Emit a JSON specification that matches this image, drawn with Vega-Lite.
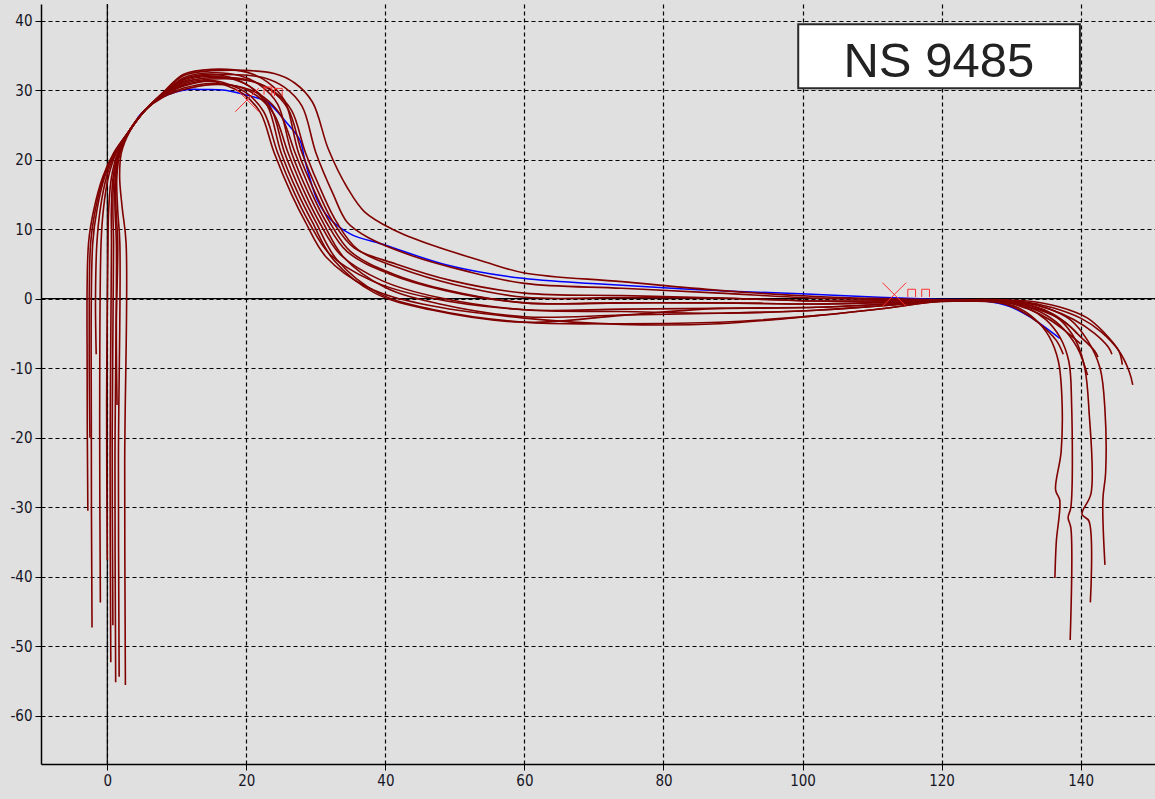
{
  "$schema": "https://vega.github.io/schema/vega-lite/v6.json",
  "width": 1114,
  "height": 760,
  "autosize": {"type": "none"},
  "padding": {"left": 41, "top": 4, "right": 0, "bottom": 35},
  "background": "#e0e0e0",
  "config": {
    "view": {"stroke": null, "fill": "#e0e0e0"},
    "axis": {
      "domainColor": "#000000", "domainWidth": 1.5, "tickColor": "#000000", "tickSize": 6, "tickWidth": 1,
      "grid": true, "gridColor": "#000000", "gridDash": [4, 3], "gridWidth": 1.2, "gridOpacity": 1,
      "labelFont": "DejaVu Sans Condensed, DejaVu Sans, Liberation Sans", "labelFontSize": 15, "labelColor": "#151525",
      "labelPadding": 3, "title": null, "labelExpr": "'' + datum.value"
    }
  },
  "datasets": {
    "zero": [{"v": 0}],
    "red": [
      {"c":1,"i":1,"x":-2.8,"y":-30.5},{"c":1,"i":2,"x":-2.9,"y":-11.3},{"c":1,"i":3,"x":-2.7,"y":8},{"c":1,"i":4,"x":-1.9,"y":13},{"c":1,"i":5,"x":-0.66,"y":17.5},{"c":1,"i":6,"x":0.94,"y":21},{"c":1,"i":7,"x":3.2,"y":24.2},{"c":1,"i":8,"x":5.5,"y":27.2},{"c":1,"i":9,"x":8,"y":29.2},{"c":1,"i":10,"x":11,"y":30.7},{"c":1,"i":11,"x":15,"y":31.4},{"c":1,"i":12,"x":17,"y":31.0},{"c":1,"i":13,"x":20,"y":29.6},{"c":1,"i":14,"x":22.5,"y":26.9},{"c":1,"i":15,"x":24.5,"y":21},{"c":1,"i":16,"x":27,"y":15},{"c":1,"i":17,"x":29,"y":11},{"c":1,"i":18,"x":32,"y":6.4},{"c":1,"i":19,"x":38,"y":2.6},{"c":1,"i":20,"x":46,"y":0.2},{"c":1,"i":21,"x":60,"y":-1.6},{"c":1,"i":22,"x":74,"y":-1.5},{"c":1,"i":23,"x":88,"y":-1.4},{"c":1,"i":24,"x":102,"y":-1.24},{"c":1,"i":25,"x":112,"y":-0.77},{"c":1,"i":26,"x":120,"y":-0.3},{"c":1,"i":27,"x":128,"y":-0.5},{"c":1,"i":28,"x":131,"y":-1.3},{"c":1,"i":29,"x":133.5,"y":-3},{"c":1,"i":30,"x":135.5,"y":-5.5},{"c":1,"i":31,"x":136.8,"y":-9},{"c":1,"i":32,"x":137.3,"y":-14},{"c":1,"i":33,"x":137.2,"y":-22},{"c":1,"i":34,"x":136.4,"y":-27.5},{"c":1,"i":35,"x":137.0,"y":-29},{"c":1,"i":36,"x":136.5,"y":-35},{"c":1,"i":37,"x":136.3,"y":-40.2},
      {"c":2,"i":1,"x":-2.2,"y":-47.3},{"c":2,"i":2,"x":-2.3,"y":-19.7},{"c":2,"i":3,"x":-2.1,"y":8},{"c":2,"i":4,"x":-1.45,"y":13},{"c":2,"i":5,"x":-0.39,"y":17.5},{"c":2,"i":6,"x":1.06,"y":21},{"c":2,"i":7,"x":3.2,"y":24.2},{"c":2,"i":8,"x":5.5,"y":27.2},{"c":2,"i":9,"x":8,"y":29.35},{"c":2,"i":10,"x":11,"y":31.3},{"c":2,"i":11,"x":15,"y":32.0},{"c":2,"i":12,"x":18,"y":31.6},{"c":2,"i":13,"x":21,"y":30.2},{"c":2,"i":14,"x":23.5,"y":27.5},{"c":2,"i":15,"x":25.5,"y":21},{"c":2,"i":16,"x":28,"y":15},{"c":2,"i":17,"x":30,"y":11},{"c":2,"i":18,"x":33,"y":5.64},{"c":2,"i":19,"x":39,"y":0.8},{"c":2,"i":20,"x":47,"y":-1.6},{"c":2,"i":21,"x":60,"y":-3.4},{"c":2,"i":22,"x":74,"y":-3.6},{"c":2,"i":23,"x":88,"y":-3.4},{"c":2,"i":24,"x":102,"y":-2.44},{"c":2,"i":25,"x":112,"y":-1.37},{"c":2,"i":26,"x":120,"y":-0.35},{"c":2,"i":27,"x":129,"y":-0.4},{"c":2,"i":28,"x":132.5,"y":-1.4},{"c":2,"i":29,"x":135,"y":-3},{"c":2,"i":30,"x":137,"y":-5.5},{"c":2,"i":31,"x":138.3,"y":-9},{"c":2,"i":32,"x":138.7,"y":-15},{"c":2,"i":33,"x":138.6,"y":-30},{"c":2,"i":34,"x":138.2,"y":-31.5},{"c":2,"i":35,"x":138.6,"y":-33},{"c":2,"i":36,"x":138.5,"y":-49.1},
      {"c":3,"i":1,"x":-1.0,"y":-43.7},{"c":3,"i":2,"x":-1.1,"y":-17.9},{"c":3,"i":3,"x":-0.9,"y":8},{"c":3,"i":4,"x":-0.55,"y":13},{"c":3,"i":5,"x":0.15,"y":17.5},{"c":3,"i":6,"x":1.3,"y":21},{"c":3,"i":7,"x":3.2,"y":24.2},{"c":3,"i":8,"x":5.5,"y":27.2},{"c":3,"i":9,"x":8,"y":29.5},{"c":3,"i":10,"x":11,"y":31.8},{"c":3,"i":11,"x":15,"y":32.5},{"c":3,"i":12,"x":19,"y":32.1},{"c":3,"i":13,"x":22,"y":30.7},{"c":3,"i":14,"x":24.5,"y":28.0},{"c":3,"i":15,"x":26.5,"y":21},{"c":3,"i":16,"x":29,"y":15},{"c":3,"i":17,"x":31,"y":11},{"c":3,"i":18,"x":34,"y":5.96},{"c":3,"i":19,"x":40,"y":1.6},{"c":3,"i":20,"x":48,"y":-0.8},{"c":3,"i":21,"x":60,"y":-2.6},{"c":3,"i":22,"x":74,"y":-2.35},{"c":3,"i":23,"x":88,"y":-2.1},{"c":3,"i":24,"x":102,"y":-1.66},{"c":3,"i":25,"x":112,"y":-0.98},{"c":3,"i":26,"x":120,"y":-0.25},{"c":3,"i":27,"x":130,"y":-0.4},{"c":3,"i":28,"x":134,"y":-1.4},{"c":3,"i":29,"x":137,"y":-3},{"c":3,"i":30,"x":139.3,"y":-6},{"c":3,"i":31,"x":140.6,"y":-10},{"c":3,"i":32,"x":141.2,"y":-16},{"c":3,"i":33,"x":141.5,"y":-28},{"c":3,"i":34,"x":140.2,"y":-31},{"c":3,"i":35,"x":141.2,"y":-32},{"c":3,"i":36,"x":141.4,"y":-43.7},
      {"c":4,"i":1,"x":0.5,"y":-52.3},{"c":4,"i":2,"x":0.4,"y":-22.2},{"c":4,"i":3,"x":0.6,"y":8},{"c":4,"i":4,"x":0.58,"y":13},{"c":4,"i":5,"x":0.83,"y":17.5},{"c":4,"i":6,"x":1.6,"y":21},{"c":4,"i":7,"x":3.2,"y":24.2},{"c":4,"i":8,"x":5.5,"y":27.2},{"c":4,"i":9,"x":8,"y":29.65},{"c":4,"i":10,"x":11,"y":32.3},{"c":4,"i":11,"x":15,"y":33.0},{"c":4,"i":12,"x":20,"y":32.6},{"c":4,"i":13,"x":23,"y":31.2},{"c":4,"i":14,"x":25.5,"y":28.5},{"c":4,"i":15,"x":27.5,"y":21},{"c":4,"i":16,"x":30,"y":15},{"c":4,"i":17,"x":32,"y":11},{"c":4,"i":18,"x":35,"y":6.76},{"c":4,"i":19,"x":41,"y":3.6},{"c":4,"i":20,"x":49,"y":1.2},{"c":4,"i":21,"x":60,"y":-0.6},{"c":4,"i":22,"x":74,"y":-0.6},{"c":4,"i":23,"x":88,"y":-0.6},{"c":4,"i":24,"x":102,"y":-0.76},{"c":4,"i":25,"x":112,"y":-0.53},{"c":4,"i":26,"x":120,"y":-0.3},{"c":4,"i":27,"x":131,"y":-0.4},{"c":4,"i":28,"x":135,"y":-1.3},{"c":4,"i":29,"x":138.5,"y":-3},{"c":4,"i":30,"x":141,"y":-6},{"c":4,"i":31,"x":142.8,"y":-10},{"c":4,"i":32,"x":143.5,"y":-16},{"c":4,"i":33,"x":143.6,"y":-25},{"c":4,"i":34,"x":143.2,"y":-29},{"c":4,"i":35,"x":143.5,"y":-38.3},
      {"c":5,"i":1,"x":1.2,"y":-55.2},{"c":5,"i":2,"x":1.1,"y":-23.6},{"c":5,"i":3,"x":1.3,"y":8},{"c":5,"i":4,"x":1.1,"y":13},{"c":5,"i":5,"x":1.14,"y":17.5},{"c":5,"i":6,"x":1.74,"y":21},{"c":5,"i":7,"x":3.2,"y":24.2},{"c":5,"i":8,"x":5.5,"y":27.2},{"c":5,"i":9,"x":8,"y":29.23},{"c":5,"i":10,"x":11,"y":30.9},{"c":5,"i":11,"x":15,"y":31.6},{"c":5,"i":12,"x":21,"y":31.2},{"c":5,"i":13,"x":24,"y":29.8},{"c":5,"i":14,"x":26.5,"y":27.1},{"c":5,"i":15,"x":28.5,"y":21},{"c":5,"i":16,"x":31,"y":15},{"c":5,"i":17,"x":33,"y":11},{"c":5,"i":18,"x":36,"y":7.08},{"c":5,"i":19,"x":42,"y":4.4},{"c":5,"i":20,"x":50,"y":2.0},{"c":5,"i":21,"x":60,"y":0.2},{"c":5,"i":22,"x":74,"y":0.15},{"c":5,"i":23,"x":88,"y":0.1},{"c":5,"i":24,"x":102,"y":-0.34},{"c":5,"i":25,"x":112,"y":-0.32},{"c":5,"i":26,"x":120,"y":-0.3},{"c":5,"i":27,"x":132,"y":-0.5},{"c":5,"i":28,"x":136,"y":-1.3},{"c":5,"i":29,"x":140,"y":-2.8},{"c":5,"i":30,"x":143,"y":-4.8},{"c":5,"i":31,"x":145.5,"y":-7.5},{"c":5,"i":32,"x":147,"y":-10.5},{"c":5,"i":33,"x":147.5,"y":-12.4},
      {"c":6,"i":1,"x":1.7,"y":-54.4},{"c":6,"i":2,"x":1.6,"y":-23.2},{"c":6,"i":3,"x":1.8,"y":8},{"c":6,"i":4,"x":1.48,"y":13},{"c":6,"i":5,"x":1.37,"y":17.5},{"c":6,"i":6,"x":1.84,"y":21},{"c":6,"i":7,"x":3.2,"y":24.2},{"c":6,"i":8,"x":5.5,"y":27.2},{"c":6,"i":9,"x":8,"y":29.4},{"c":6,"i":10,"x":11,"y":31.5},{"c":6,"i":11,"x":15,"y":32.2},{"c":6,"i":12,"x":22.5,"y":31.8},{"c":6,"i":13,"x":25.5,"y":30.4},{"c":6,"i":14,"x":28,"y":27.7},{"c":6,"i":15,"x":30,"y":21},{"c":6,"i":16,"x":32.5,"y":15},{"c":6,"i":17,"x":34.5,"y":11},{"c":6,"i":18,"x":37.5,"y":8.8},{"c":6,"i":19,"x":43.5,"y":6.3},{"c":6,"i":20,"x":51.5,"y":4.0},{"c":6,"i":21,"x":60,"y":2.2},{"c":6,"i":22,"x":74,"y":1.5},{"c":6,"i":23,"x":88,"y":0.8},{"c":6,"i":24,"x":102,"y":0.08},{"c":6,"i":25,"x":112,"y":-0.11},{"c":6,"i":26,"x":120,"y":-0.2},{"c":6,"i":27,"x":130,"y":-0.6},{"c":6,"i":28,"x":134,"y":-1.6},{"c":6,"i":29,"x":137.5,"y":-3.2},{"c":6,"i":30,"x":140,"y":-5.5},{"c":6,"i":31,"x":142,"y":-7.5},{"c":6,"i":32,"x":142.5,"y":-8.4},
      {"c":7,"i":1,"x":2.6,"y":-55.6},{"c":7,"i":2,"x":2.5,"y":-23.8},{"c":7,"i":3,"x":2.7,"y":8},{"c":7,"i":4,"x":2.15,"y":13},{"c":7,"i":5,"x":1.77,"y":17.5},{"c":7,"i":6,"x":2.02,"y":21},{"c":7,"i":7,"x":3.3,"y":24.2},{"c":7,"i":8,"x":5.5,"y":27.2},{"c":7,"i":9,"x":8,"y":29.6},{"c":7,"i":10,"x":11,"y":32.1},{"c":7,"i":11,"x":15,"y":32.8},{"c":7,"i":12,"x":24,"y":32.4},{"c":7,"i":13,"x":27,"y":31.0},{"c":7,"i":14,"x":29.5,"y":28.3},{"c":7,"i":15,"x":31.8,"y":21.5},{"c":7,"i":16,"x":34.5,"y":16},{"c":7,"i":17,"x":37,"y":12.5},{"c":7,"i":18,"x":41,"y":10},{"c":7,"i":19,"x":47,"y":7.6},{"c":7,"i":20,"x":54,"y":5.4},{"c":7,"i":21,"x":60,"y":3.7},{"c":7,"i":22,"x":74,"y":2.45},{"c":7,"i":23,"x":88,"y":1.2},{"c":7,"i":24,"x":102,"y":0.32},{"c":7,"i":25,"x":112,"y":0.01},{"c":7,"i":26,"x":120,"y":-0.15},{"c":7,"i":27,"x":132,"y":-0.3},{"c":7,"i":28,"x":137,"y":-1.2},{"c":7,"i":29,"x":141,"y":-2.8},{"c":7,"i":30,"x":143.5,"y":-5},{"c":7,"i":31,"x":145.5,"y":-7.5},{"c":7,"i":32,"x":146,"y":-9.5},
      {"c":8,"i":1,"x":0.8,"y":-47.0},{"c":8,"i":2,"x":0.7,"y":-19.5},{"c":8,"i":3,"x":0.9,"y":8},{"c":8,"i":4,"x":0.8,"y":13},{"c":8,"i":5,"x":0.96,"y":17.5},{"c":8,"i":6,"x":1.66,"y":21},{"c":8,"i":7,"x":3.2,"y":24.2},{"c":8,"i":8,"x":5.5,"y":27.2},{"c":8,"i":9,"x":8,"y":29.05},{"c":8,"i":10,"x":11,"y":30.3},{"c":8,"i":11,"x":15,"y":31.0},{"c":8,"i":12,"x":18.5,"y":30.6},{"c":8,"i":13,"x":21.5,"y":29.2},{"c":8,"i":14,"x":24,"y":26.5},{"c":8,"i":15,"x":26,"y":21},{"c":8,"i":16,"x":28.5,"y":15},{"c":8,"i":17,"x":30.5,"y":11},{"c":8,"i":18,"x":33.5,"y":6.36},{"c":8,"i":19,"x":39.5,"y":2.6},{"c":8,"i":20,"x":47.5,"y":0.2},{"c":8,"i":21,"x":60,"y":-1.6},{"c":8,"i":22,"x":74,"y":-1.85},{"c":8,"i":23,"x":88,"y":-2.1},{"c":8,"i":24,"x":102,"y":-1.66},{"c":8,"i":25,"x":112,"y":-0.98},{"c":8,"i":26,"x":120,"y":-0.4},{"c":8,"i":27,"x":129,"y":-0.5},{"c":8,"i":28,"x":132.5,"y":-1.5},{"c":8,"i":29,"x":135.5,"y":-3},{"c":8,"i":30,"x":138,"y":-4.8},{"c":8,"i":31,"x":140,"y":-6.5},
      {"c":9,"i":1,"x":1.4,"y":-15.3},{"c":9,"i":2,"x":1.3,"y":-3.6},{"c":9,"i":3,"x":1.5,"y":8},{"c":9,"i":4,"x":1.25,"y":13},{"c":9,"i":5,"x":1.23,"y":17.5},{"c":9,"i":6,"x":1.78,"y":21},{"c":9,"i":7,"x":3.2,"y":24.2},{"c":9,"i":8,"x":5.5,"y":27.2},{"c":9,"i":9,"x":8,"y":29.3},{"c":9,"i":10,"x":11,"y":31.1},{"c":9,"i":11,"x":15,"y":31.8},{"c":9,"i":12,"x":20.5,"y":31.4},{"c":9,"i":13,"x":23.5,"y":30.0},{"c":9,"i":14,"x":26,"y":27.3},{"c":9,"i":15,"x":28,"y":21},{"c":9,"i":16,"x":30.5,"y":15},{"c":9,"i":17,"x":32.5,"y":11},{"c":9,"i":18,"x":35.5,"y":7.32},{"c":9,"i":19,"x":41.5,"y":5.0},{"c":9,"i":20,"x":49.5,"y":2.6},{"c":9,"i":21,"x":60,"y":0.8},{"c":9,"i":22,"x":74,"y":0.45},{"c":9,"i":23,"x":88,"y":0.1},{"c":9,"i":24,"x":102,"y":-0.34},{"c":9,"i":25,"x":112,"y":-0.32},{"c":9,"i":26,"x":120,"y":-0.25},{"c":9,"i":27,"x":131,"y":-0.4},{"c":9,"i":28,"x":135.5,"y":-1.5},{"c":9,"i":29,"x":139,"y":-3},{"c":9,"i":30,"x":142,"y":-5},{"c":9,"i":31,"x":144,"y":-7},{"c":9,"i":32,"x":144.5,"y":-8},
      {"c":10,"i":1,"x":0.0,"y":-37.6},{"c":10,"i":2,"x":-0.1,"y":-14.8},{"c":10,"i":3,"x":0.1,"y":8},{"c":10,"i":4,"x":0.2,"y":13},{"c":10,"i":5,"x":0.6,"y":17.5},{"c":10,"i":6,"x":1.5,"y":21},{"c":10,"i":7,"x":3.2,"y":24.2},{"c":10,"i":8,"x":5.5,"y":27.2},{"c":10,"i":9,"x":8,"y":29.44},{"c":10,"i":10,"x":11,"y":31.6},{"c":10,"i":11,"x":15,"y":32.3},{"c":10,"i":12,"x":17.5,"y":31.9},{"c":10,"i":13,"x":20.5,"y":30.5},{"c":10,"i":14,"x":23,"y":27.8},{"c":10,"i":15,"x":25,"y":21},{"c":10,"i":16,"x":27.5,"y":15},{"c":10,"i":17,"x":29.5,"y":11},{"c":10,"i":18,"x":32.5,"y":5.64},{"c":10,"i":19,"x":38.5,"y":0.8},{"c":10,"i":20,"x":46.5,"y":-1.6},{"c":10,"i":21,"x":60,"y":-3.4},{"c":10,"i":22,"x":74,"y":-2.4},{"c":10,"i":23,"x":88,"y":-1.4},{"c":10,"i":24,"x":102,"y":-1.24},{"c":10,"i":25,"x":112,"y":-0.77},{"c":10,"i":26,"x":120,"y":-0.35},{"c":10,"i":27,"x":128.5,"y":-0.6},{"c":10,"i":28,"x":131.5,"y":-1.8},{"c":10,"i":29,"x":134,"y":-3.5},{"c":10,"i":30,"x":136.5,"y":-6},{"c":10,"i":31,"x":137.5,"y":-8},
      {"c":11,"i":1,"x":-2.5,"y":-20},{"c":11,"i":2,"x":-2.6,"y":-6},{"c":11,"i":3,"x":-2.4,"y":8},{"c":11,"i":4,"x":-1.68,"y":13},{"c":11,"i":5,"x":-0.53,"y":17.5},{"c":11,"i":6,"x":1.0,"y":21},{"c":11,"i":7,"x":3.2,"y":24.2},{"c":11,"i":8,"x":5.5,"y":27.2},{"c":11,"i":9,"x":8,"y":28.99},{"c":11,"i":10,"x":11,"y":30.1},{"c":11,"i":11,"x":15,"y":30.8},{"c":11,"i":12,"x":19.5,"y":30.4},{"c":11,"i":13,"x":22.5,"y":29.0},{"c":11,"i":14,"x":25,"y":26.3},{"c":11,"i":15,"x":27,"y":21},{"c":11,"i":16,"x":29.5,"y":15},{"c":11,"i":17,"x":31.5,"y":11},{"c":11,"i":18,"x":34.5,"y":6.76},{"c":11,"i":19,"x":40.5,"y":3.6},{"c":11,"i":20,"x":48.5,"y":1.2},{"c":11,"i":21,"x":60,"y":-0.6},{"c":11,"i":22,"x":74,"y":-0.6},{"c":11,"i":23,"x":88,"y":-0.6},{"c":11,"i":24,"x":102,"y":-0.76},{"c":11,"i":25,"x":112,"y":-0.53},{"c":11,"i":26,"x":120,"y":-0.3},{"c":11,"i":27,"x":129,"y":-0.3},{"c":11,"i":28,"x":133,"y":-1},{"c":11,"i":29,"x":136,"y":-2.2},{"c":11,"i":30,"x":138.5,"y":-4},{"c":11,"i":31,"x":139.5,"y":-5},
      {"c":12,"i":1,"x":-1.6,"y":-8},{"c":12,"i":2,"x":-1.7,"y":0},{"c":12,"i":3,"x":-1.5,"y":8},{"c":12,"i":4,"x":-1.0,"y":13},{"c":12,"i":5,"x":-0.12,"y":17.5},{"c":12,"i":6,"x":1.18,"y":21},{"c":12,"i":7,"x":3.2,"y":24.2},{"c":12,"i":8,"x":5.5,"y":27.2},{"c":12,"i":9,"x":8,"y":29.14},{"c":12,"i":10,"x":11,"y":30.6},{"c":12,"i":11,"x":15,"y":31.3},{"c":12,"i":12,"x":16.5,"y":30.9},{"c":12,"i":13,"x":19.5,"y":29.5},{"c":12,"i":14,"x":22,"y":26.8},{"c":12,"i":15,"x":24,"y":21},{"c":12,"i":16,"x":26.5,"y":15},{"c":12,"i":17,"x":28.5,"y":11},{"c":12,"i":18,"x":31.5,"y":5.96},{"c":12,"i":19,"x":37.5,"y":1.6},{"c":12,"i":20,"x":45.5,"y":-0.8},{"c":12,"i":21,"x":60,"y":-2.8},{"c":12,"i":22,"x":74,"y":-3.7},{"c":12,"i":23,"x":88,"y":-3.6},{"c":12,"i":24,"x":102,"y":-2.44},{"c":12,"i":25,"x":112,"y":-1.37},{"c":12,"i":26,"x":120,"y":-0.35},{"c":12,"i":27,"x":130,"y":-0.5},{"c":12,"i":28,"x":134,"y":-1.8},{"c":12,"i":29,"x":137,"y":-3.8},{"c":12,"i":30,"x":139.5,"y":-7},{"c":12,"i":31,"x":141,"y":-11}
    ],
    "blue": [
      {"i":1,"x":4.4,"y":26.1},{"i":2,"x":7,"y":28.5},{"i":3,"x":10.9,"y":30.0},{"i":4,"x":14,"y":30.1},{"i":5,"x":17,"y":30.0},{"i":6,"x":20,"y":29.3},{"i":7,"x":23,"y":28.3},{"i":8,"x":25.8,"y":25.3},{"i":9,"x":27.7,"y":22.8},{"i":10,"x":28.4,"y":20},{"i":11,"x":30.2,"y":14.2},{"i":12,"x":32,"y":11.5},{"i":13,"x":35,"y":9.3},{"i":14,"x":40,"y":7.7},{"i":15,"x":49,"y":4.8},{"i":16,"x":59,"y":3},{"i":17,"x":71,"y":2.1},{"i":18,"x":85,"y":1.3},{"i":19,"x":99.7,"y":0.7},{"i":20,"x":111,"y":0.2},{"i":21,"x":120,"y":-0.1},{"i":22,"x":126,"y":-0.3},{"i":23,"x":130,"y":-1.2},{"i":24,"x":133,"y":-2.8},{"i":25,"x":137,"y":-5.7}
    ],
    "cross": [{"x": 20.1, "y": 28.6}, {"x": 113.2, "y": 0.6}],
    "tag": [{"x": 23.1, "y": 29.9}, {"x": 24.6, "y": 29.7}, {"x": 115.7, "y": 0.8}, {"x": 117.7, "y": 0.8}],
    "label": [{"x": 99.38, "x2": 139.9, "y": 39.48, "y2": 30.27, "tx": 119.6, "ty": 31.9, "name": "NS 9485"}]
  },
  "layer": [
    {
      "data": {"name": "zero"},
      "mark": {"type": "rule", "color": "#000000", "strokeWidth": 1.2},
      "encoding": {
        "x": {"field": "v", "type": "quantitative", "scale": {"domain": [-9.54, 150.7], "nice": false, "zero": false}, "axis": {"values": [0, 20, 40, 60, 80, 100, 120, 140]}}
      }
    },
    {
      "data": {"name": "zero"},
      "mark": {"type": "rule", "color": "#000000", "strokeWidth": 1.2},
      "encoding": {
        "y": {"field": "v", "type": "quantitative", "scale": {"domain": [-66.95, 42.4], "nice": false, "zero": false}, "axis": {"values": [-60, -50, -40, -30, -20, -10, 0, 10, 20, 30, 40]}}
      }
    },
    {
      "data": {"name": "blue"},
      "mark": {"type": "line", "color": "#0000ff", "strokeWidth": 1.5, "interpolate": "catmull-rom", "clip": true},
      "encoding": {
        "x": {"field": "x", "type": "quantitative", "scale": {"domain": [-9.54, 150.7], "nice": false, "zero": false}},
        "y": {"field": "y", "type": "quantitative", "scale": {"domain": [-66.95, 42.4], "nice": false, "zero": false}},
        "order": {"field": "i"}
      }
    },
    {
      "data": {"name": "red"},
      "mark": {"type": "line", "color": "#800000", "strokeWidth": 1.6, "interpolate": "catmull-rom", "clip": true},
      "encoding": {
        "x": {"field": "x", "type": "quantitative", "scale": {"domain": [-9.54, 150.7], "nice": false, "zero": false}},
        "y": {"field": "y", "type": "quantitative", "scale": {"domain": [-66.95, 42.4], "nice": false, "zero": false}},
        "detail": {"field": "c"},
        "order": {"field": "i"}
      }
    },
    {
      "data": {"name": "cross"},
      "mark": {"type": "point", "shape": "M-1,-1L1,1M-1,1L1,-1", "size": 560, "stroke": "#ff3030", "strokeWidth": 1, "filled": false, "opacity": 1},
      "encoding": {
        "x": {"field": "x", "type": "quantitative", "scale": {"domain": [-9.54, 150.7], "nice": false, "zero": false}},
        "y": {"field": "y", "type": "quantitative", "scale": {"domain": [-66.95, 42.4], "nice": false, "zero": false}}
      }
    },
    {
      "data": {"name": "tag"},
      "mark": {"type": "point", "shape": "M-1,1L-1,-1L1,-1L1,1", "size": 60, "stroke": "#ff3030", "strokeWidth": 1, "filled": false, "opacity": 1},
      "encoding": {
        "x": {"field": "x", "type": "quantitative", "scale": {"domain": [-9.54, 150.7], "nice": false, "zero": false}},
        "y": {"field": "y", "type": "quantitative", "scale": {"domain": [-66.95, 42.4], "nice": false, "zero": false}}
      }
    },
    {
      "data": {"name": "label"},
      "mark": {"type": "rect", "fill": "#ffffff", "stroke": "#2a2a2a", "strokeWidth": 2},
      "encoding": {
        "x": {"field": "x", "type": "quantitative", "scale": {"domain": [-9.54, 150.7], "nice": false, "zero": false}},
        "x2": {"field": "x2"},
        "y": {"field": "y", "type": "quantitative", "scale": {"domain": [-66.95, 42.4], "nice": false, "zero": false}},
        "y2": {"field": "y2"}
      }
    },
    {
      "data": {"name": "label"},
      "mark": {"type": "text", "font": "Liberation Sans", "fontSize": 49, "color": "#222222", "align": "center", "baseline": "alphabetic"},
      "encoding": {
        "x": {"field": "tx", "type": "quantitative", "scale": {"domain": [-9.54, 150.7], "nice": false, "zero": false}},
        "y": {"field": "ty", "type": "quantitative", "scale": {"domain": [-66.95, 42.4], "nice": false, "zero": false}},
        "text": {"field": "name"}
      }
    }
  ]
}
